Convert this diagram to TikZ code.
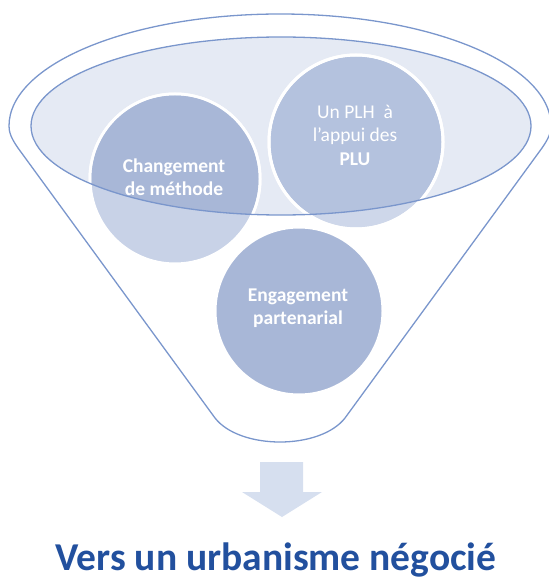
\documentclass[tikz,border=0pt]{standalone}
\usepackage{fontspec}
\setmainfont{Carlito}
\usepackage{xcolor}
\usetikzlibrary{positioning,calc}
\definecolor{fline}{HTML}{7A96CC}
\definecolor{ffill}{HTML}{E5EAF4}
\definecolor{bdark}{HTML}{A8B7D7}
\definecolor{bmid}{HTML}{B4C2DE}
\definecolor{blight}{HTML}{C8D2E7}
\definecolor{blightb}{HTML}{CED7EA}
\definecolor{arrfill}{HTML}{D6DFEF}
\definecolor{ttl}{HTML}{22509E}
\tikzset{
  % funnel strokes
  rim/.style    = {draw=fline, line width=1.3pt},
  % white-rimmed disc
  disc/.style   = {fill=#1, draw=white, line width=3pt},
  lbl/.style    = {text=white, font=\fontsize{19.5}{23.5}\selectfont\bfseries, align=center},
  title/.style  = {text=ttl, font=\fontsize{39.5}{44}\selectfont\bfseries},
}

\begin{document}
\begin{tikzpicture}[x=1pt,y=-1pt]
\useasboundingbox (0,0) rectangle (548,580);
% funnel body
\draw[rim] (215,418) -- (18,148) .. controls (11,138) and (9,132) .. (9,126)
  arc[start angle=180, end angle=360, x radius=271, y radius=112]
  .. controls (551,132) and (549,138) .. (542,148) -- (345,418)
  .. controls (320,450) and (240,450) .. (215,418);
\fill[ffill] (281,126) ellipse[x radius=250, y radius=89];
% discs
\coordinate (c1) at (175,179);
\coordinate (c2) at (356,142);
\coordinate (c3) at (299,311);
\fill[disc=blight] (c1) circle (85);
\fill[disc=blightb] (c2) circle (87);
\draw[disc=bdark] (c3) circle (84);
\draw[disc=blight] (c1) circle (85);
\begin{scope}
  \clip (281,126) ellipse[x radius=250, y radius=89];
  \fill[bdark] (c1) circle (83.5);
  \fill[bmid] (c2) circle (85.5);
\end{scope}
\draw[white, line width=3pt] (c2) circle (87);
\node[lbl] (chg) at ($(c1)+(-1,-2)$) {Changement\\de méthode};
\node[lbl] (plh) at ($(c2)+(-1,-7)$) {\mdseries Un PLH\ \ à\\\mdseries l’appui des\\PLU};
\node[lbl] (eng) at ($(c3)+(-1,-3)$) {Engagement\\partenarial};
\draw[rim] (281,126) ellipse[x radius=250, y radius=89];
% arrow and outcome
\fill[arrfill] (260,462) -- (303,462) -- (303,492) -- (322,492) -- (282,517)
  -- (242,492) -- (260,492) -- cycle;
\node[title, anchor=base] (out) at (276,570) {Vers un urbanisme négocié};
\end{tikzpicture}
\end{document}
